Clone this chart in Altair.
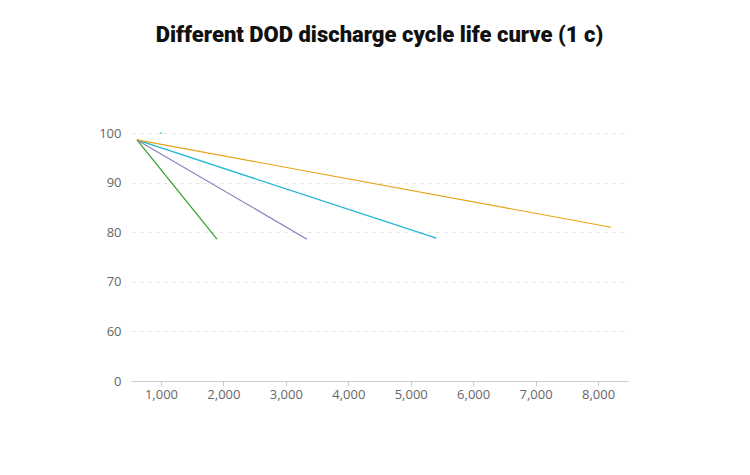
import altair as alt
import pandas as pd

series = ["100% DOD", "80% DOD", "60% DOD", "40% DOD"]
start_cycles = [615, 615, 615, 615]
start_cap = [98.6, 98.6, 98.6, 98.6]
end_cycles = [1897, 3340, 5410, 8210]
end_cap = [78.6, 78.6, 78.8, 81.0]
colors = ["#2ca02c", "#8c7fb8", "#1fb5d6", "#e8a317"]

rows = []
for s, x0, y0, x1, y1 in zip(series, start_cycles, start_cap, end_cycles, end_cap):
    rows.append({"series": s, "cycles": x0, "capacity": y0})
    rows.append({"series": s, "cycles": x1, "capacity": y1})
df = pd.DataFrame(rows)
dot = pd.DataFrame({"cycles": [1000], "capacity": [100]})

x_enc = alt.X("cycles:Q", title=None,
              scale=alt.Scale(domain=[520, 8480], nice=False),
              axis=alt.Axis(values=[1000, 2000, 3000, 4000, 5000, 6000, 7000, 8000],
                            grid=False, domainColor="#cccccc", tickColor="#cccccc",
                            labelColor="#666666", labelFontSize=13, labelFont="Open Sans"))
y_enc = alt.Y("capacity:Q", title=None,
              scale=alt.Scale(domain=[50, 100], nice=False),
              axis=alt.Axis(values=[50, 60, 70, 80, 90, 100],
                            labelExpr="datum.value == 50 ? '0' : datum.value",
                            domain=False, ticks=False, gridDash=[4, 4], gridColor="#e6e6e6",
                            labelColor="#666666", labelFontSize=13, labelFont="Open Sans",
                            labelPadding=10))

lines = alt.Chart(df).mark_line(strokeWidth=1.2).encode(
    x=x_enc, y=y_enc,
    color=alt.Color("series:N", scale=alt.Scale(domain=series, range=colors), legend=None),
)
pt = alt.Chart(dot).mark_point(filled=True, size=4, color="#1fb5d6").encode(x="cycles:Q", y="capacity:Q")

chart = (lines + pt).properties(
    width=497, height=248,
    autosize=alt.AutoSizeParams(type="none"),
    padding={"left": 123, "top": 125, "right": 10, "bottom": 60},
    title=alt.TitleParams("Different DOD discharge cycle life curve (1 c)", fontSize=22,
                          font="Roboto", fontWeight=900, color="#111111",
                          anchor="middle", offset=80),
).configure_view(stroke=None)

chart.save("out.html", embed_options={"renderer": "svg", "actions": False})
